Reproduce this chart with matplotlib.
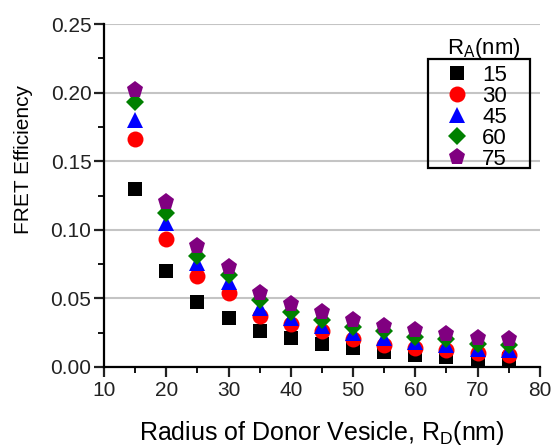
"""FRET efficiency vs donor vesicle radius for several acceptor radii."""

from matplotlib import pyplot as plt
from matplotlib.patches import Rectangle
from matplotlib.ticker import MultipleLocator

plt.rcParams["font.family"] = ["Liberation Sans", "DejaVu Sans"]
plt.rcParams["mathtext.fontset"] = "custom"
plt.rcParams["mathtext.rm"] = "Liberation Sans"
plt.rcParams["mathtext.it"] = "Liberation Sans"

# Donor vesicle radius (nm)
r_donor = [15, 20, 25, 30, 35, 40, 45, 50, 55, 60, 65, 70, 75]

# FRET efficiency per acceptor radius (nm)
eff_15 = [0.130, 0.070, 0.047, 0.036, 0.026, 0.021, 0.017, 0.014, 0.011, 0.009, 0.0075, 0.006, 0.0055]
eff_30 = [0.166, 0.093, 0.066, 0.054, 0.037, 0.031, 0.026, 0.020, 0.016, 0.014, 0.012, 0.010, 0.009]
eff_45 = [0.180, 0.105, 0.076, 0.062, 0.043, 0.036, 0.030, 0.025, 0.021, 0.018, 0.016, 0.013, 0.012]
eff_60 = [0.193, 0.112, 0.081, 0.067, 0.049, 0.040, 0.034, 0.029, 0.026, 0.022, 0.020, 0.017, 0.016]
eff_75 = [0.202, 0.120, 0.088, 0.073, 0.054, 0.046, 0.040, 0.034, 0.030, 0.027, 0.024, 0.021, 0.020]

acceptor_labels = ["15", "30", "45", "60", "75"]

# * ------------------------------------------------------------------ * #

fig = plt.figure(figsize=(5.56, 4.48), dpi=100)
ax = fig.add_axes([0.187, 0.181, 0.784, 0.765])

series = [eff_15, eff_30, eff_45, eff_60, eff_75]
styles = [
    ("s", "black", 9.5),
    ("o", "red", 11.5),
    ("^", "blue", 12),
    ("D", "green", 8.8),
    ("p", "purple", 12.5),
]
for values, label, (marker, color, size) in zip(series, acceptor_labels, styles):
    ax.plot(
        r_donor,
        values,
        marker,
        color=color,
        markersize=size,
        markeredgewidth=0,
        linestyle="none",
        label=label,
    )

ax.set_xlim(10, 80)
ax.set_ylim(0, 0.25)
ax.xaxis.set_major_locator(MultipleLocator(10))
ax.xaxis.set_minor_locator(MultipleLocator(5))
ax.yaxis.set_major_locator(MultipleLocator(0.05))
ax.yaxis.set_minor_locator(MultipleLocator(0.025))
ax.yaxis.set_major_formatter(lambda v, _: f"{v:.2f}")

ax.grid(axis="y", which="major", color="#c4c4c4", linewidth=1.5)
ax.set_axisbelow(True)

for side in ("top", "right"):
    ax.spines[side].set_visible(False)
for side in ("left", "bottom"):
    ax.spines[side].set_linewidth(1.6)

ax.tick_params(which="major", direction="out", length=7, width=1.6, labelsize=15, colors="#222222")
ax.tick_params(which="minor", direction="out", length=4, width=1.3)
ax.tick_params(axis="y", pad=2)
ax.tick_params(axis="x", pad=3)

ax.set_xlabel("Radius of Donor Vesicle, R$_\\mathregular{D}$(nm)", fontsize=18, labelpad=14)
ax.set_ylabel("FRET Efficiency", fontsize=15)
ax.yaxis.set_label_coords(-0.163, 0.606)

# Legend entries without frame; the box is drawn separately so it can be wider
leg = ax.legend(
    loc="upper left",
    bbox_to_anchor=(444.5 / 556, (448 - 65) / 448),
    bbox_transform=fig.transFigure,
    fontsize=16,
    frameon=False,
    borderpad=0,
    labelspacing=0.0,
    handletextpad=0.55,
    handlelength=1.15,
    borderaxespad=0,
)
fig.patches.append(
    Rectangle(
        (428 / 556, (448 - 168) / 448),
        102 / 556,
        109 / 448,
        transform=fig.transFigure,
        fill=False,
        edgecolor="black",
        linewidth=1.6,
        zorder=5,
    )
)
fig.text(484 / 556, (448 - 54) / 448, "R$_\\mathregular{A}$(nm)", fontsize=16, ha="center", va="baseline")

fig.savefig("out.png", dpi=100)
